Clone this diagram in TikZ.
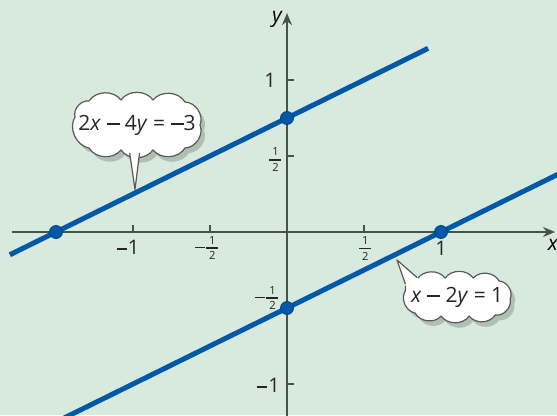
\documentclass[tikz,border=0pt]{standalone}
\usepackage{amsmath}
\usepackage{fontspec}
\setmainfont{Open Sans}
\usetikzlibrary{positioning, arrows.meta, shadows, calc}

\definecolor{bggreen}{RGB}{215,234,221}
\definecolor{lineblue}{RGB}{0,88,168}
\definecolor{axisgray}{RGB}{72,82,76}

\newcommand{\mns}{\rule[2.3pt]{5pt}{0.85pt}\kern0.5pt}
\newcommand{\bigmns}{\rule[2.4pt]{6.5pt}{0.95pt}}
\newcommand{\half}{$\vcenter{\offinterlineskip\halign{\hfil\kern1.4pt##\kern1.4pt\hfil\cr
    \fontsize{5.6}{6}\selectfont 1\cr\noalign{\kern1.6pt\hrule height 0.7pt\kern1.6pt}
    \fontsize{5.6}{6}\selectfont 2\cr}}$}
\newcommand{\neghalf}{\mns\half}

\begin{document}
\begin{tikzpicture}[
    x=77pt, y=76pt,
    axis/.style={draw=axisgray, line width=0.8pt, -{Stealth[length=6pt, width=5pt]}},
    tick/.style={draw=axisgray, line width=0.8pt},
    graph/.style={draw=lineblue, line width=2.5pt},
    dot/.style={circle, fill=lineblue, draw=lineblue!80!black, line width=0.4pt, inner sep=0pt, minimum size=6.5pt},
    ticklabel/.style={inner sep=0pt, font=\fontsize{10}{12}\selectfont, text=black!85},
    puff/.style={bend left=55},
    bubble/.style={draw=black!65, line width=0.6pt, fill=white, line join=round,
        drop shadow={shadow xshift=2pt, shadow yshift=-2.5pt, opacity=0.18, fill=black}},
    bubbletext/.style={inner sep=0pt, font=\fontsize{10.5}{12}\selectfont, text=black!85},
    pointer/.style={draw=black!65, line width=0.6pt, line join=round}
]
    % Frame
    \useasboundingbox[fill=bggreen] (-1.8636,-1.2039) rectangle (1.7532,1.5263);
    \clip (-1.8636,-1.2039) rectangle (1.7532,1.5263);

    % Axes
    \coordinate (xl) at (-1.786,0);
    \coordinate (xr) at (1.74,0);
    \coordinate (yb) at (0,-1.25);
    \coordinate (yt) at (0,1.44);
    \draw[axis] (xl) -- (xr);
    \draw[axis] (yb) -- (yt);
    \node[inner sep=0pt, font=\fontsize{10.5}{12}\selectfont\itshape] (xlab) at (1.727,-0.086) {x};
    \node[inner sep=0pt, font=\fontsize{10.5}{12}\selectfont\itshape] (ylab) at (-0.065,1.40) {y};

    % Ticks
    \foreach \t in {-1,-0.5,0.5,1} {
        \draw[tick] (\t,0) -- (\t,0.045);
        \draw[tick] (0,\t) -- (0.045,\t);
    }

    % Tick labels
    \node[ticklabel] (xm1) at (-1.032,-0.1) {\mns1};
    \node[ticklabel] (xmh) at (-0.52,-0.105) {\neghalf};
    \node[ticklabel] (xph) at (0.508,-0.11) {\half};
    \node[ticklabel] (xp1) at (1.0,-0.105) {1};
    \node[ticklabel] (yp1) at (-0.11,1.0) {1};
    \node[ticklabel] (yph) at (-0.075,0.474) {\half};
    \node[ticklabel] (ymh) at (-0.13,-0.434) {\neghalf};
    \node[ticklabel] (ym1) at (-0.12,-1.01) {\mns1};

    % Lines
    \coordinate (a1) at (-1.8,-0.15);
    \coordinate (a2) at (0.916,1.208);
    \coordinate (b1) at (-1.45,-1.225);
    \coordinate (b2) at (1.8,0.4);
    \draw[graph] (a1) -- (a2);
    \draw[graph] (b1) -- (b2);

    % Intercepts
    \node[dot] (pa) at (-1.5,0) {};
    \node[dot] (pb) at (0,0.75) {};
    \node[dot] (pc) at (0,-0.5) {};
    \node[dot] (pd) at (1,0) {};

    % Callout for 2x - 4y = -3
    \coordinate (cc1) at (-0.974,0.704);
    \begin{scope}[shift={(cc1)}, x=1pt, y=1pt]
        \path[bubble] (-31,4) to[puff] (-24,12) to[puff] (-8,12.5) to[puff] (8,12.5)
            to[puff] (24,11.5) to[puff] (31.5,0) to[puff] (24,-11.5) to[puff] (8,-12.5)
            to[puff] (-8,-12.5) to[puff] (-24,-11.5) to[puff] (-31,4) -- cycle;
    \end{scope}
    \node[bubbletext] (c1) at (cc1) {2\textit{x} \bigmns\ 4\textit{y} = \bigmns3};
    \coordinate (t1) at (-0.987,0.28);
    \coordinate (s1) at (-1.03,0.58);
    \coordinate (r1) at (-0.95,0.58);
    \fill[white] (s1) -- (t1) -- (r1) -- cycle;
    \draw[pointer] ($(s1)!0.2!(t1)$) -- (t1) -- ($(r1)!0.2!(t1)$);

    % Callout for x - 2y = 1
    \coordinate (cc2) at (1.105,-0.428);
    \begin{scope}[shift={(cc2)}, x=1pt, y=1pt]
        \path[bubble] (-26,3) to[puff] (-20,9) to[puff] (-6,9.5) to[puff] (8,9.5)
            to[puff] (21,8) to[puff] (26.5,-1) to[puff] (19,-9) to[puff] (6,-9.5)
            to[puff] (-8,-9.5) to[puff] (-21,-8) to[puff] (-26,3) -- cycle;
    \end{scope}
    \node[bubbletext] (c2) at (cc2) {\textit{x} \bigmns\ 2\textit{y} = 1};
    \coordinate (t2) at (0.714,-0.184);
    \coordinate (s2) at (0.78,-0.375);
    \coordinate (r2) at (0.871,-0.323);
    \fill[white] (s2) -- (t2) -- (r2) -- cycle;
    \draw[pointer] ($(s2)!0.17!(t2)$) -- (t2) -- ($(r2)!0.17!(t2)$);

\end{tikzpicture}
\end{document}
